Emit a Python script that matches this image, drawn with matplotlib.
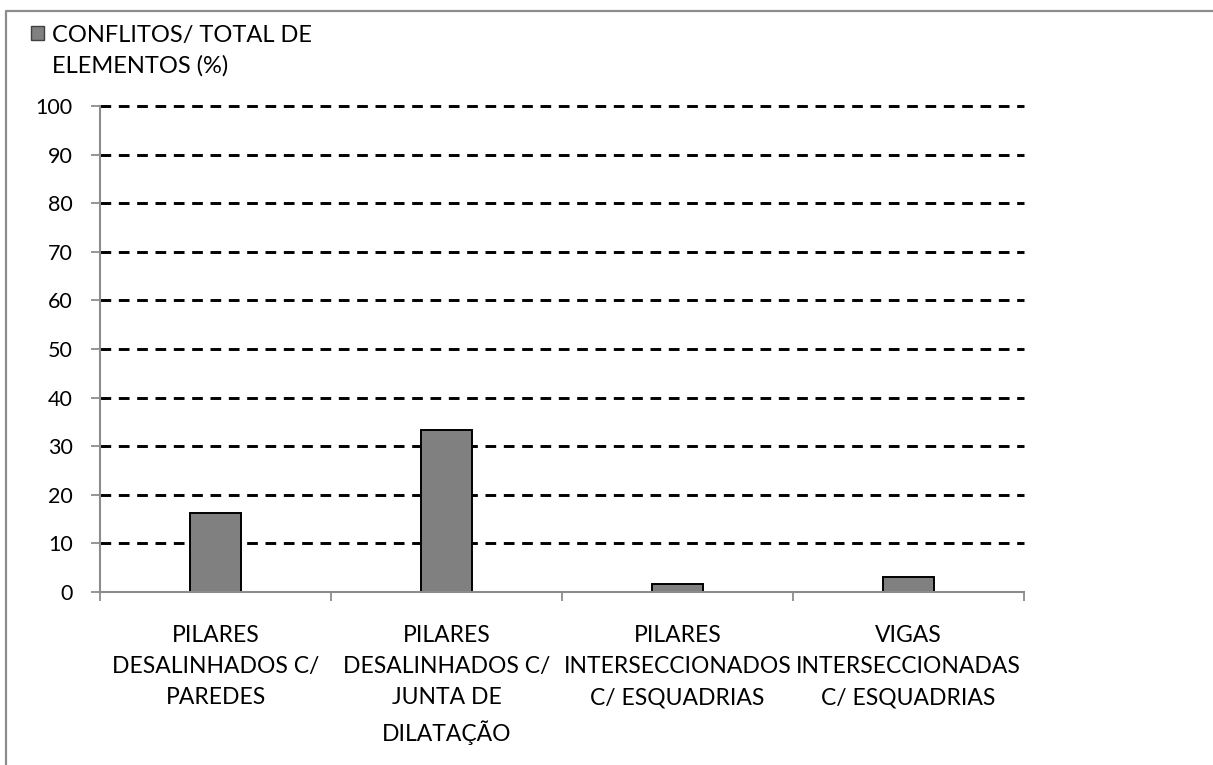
import matplotlib.pyplot as plt
import numpy as np
from matplotlib.lines import Line2D
from matplotlib.patches import Rectangle

plt.rcParams["font.family"] = ["Lato", "DejaVu Sans"]
plt.rcParams["lines.scale_dashes"] = False

categories = [
    "PILARES\nDESALINHADOS C/\nPAREDES",
    "PILARES\nDESALINHADOS C/\nJUNTA DE\nDILATAÇÃO",
    "PILARES\nINTERSECCIONADOS\nC/ ESQUADRIAS",
    "VIGAS\nINTERSECCIONADAS\nC/ ESQUADRIAS",
]
conflitos_pct = [16.2, 33.3, 1.6, 3.1]
series_label = "CONFLITOS/ TOTAL DE\nELEMENTOS (%)"
y_ticks = list(range(0, 101, 10))

W, H = 1213, 765
fig = plt.figure(figsize=(W / 100, H / 100), dpi=100)
ax = fig.add_axes([100 / W, 1 - 592 / H, (1024 - 100) / W, (592 - 106) / H])

axis_gray = "#8c8c8c"
bar_gray = "#808080"
x = np.arange(len(categories))

# dashed horizontal gridlines behind the bars
for yv in y_ticks[1:]:
    ax.axhline(yv, color="black", lw=2.1, linestyle=(0, (7.7, 5.5)),
               zorder=1, clip_on=False)

ax.bar(x, conflitos_pct, width=0.225, color=bar_gray, edgecolor="black",
       linewidth=1.4, zorder=3)

ax.set_xlim(-0.5, len(categories) - 0.5)
ax.set_ylim(0, 100)
ax.set_yticks(y_ticks)
ax.set_xticks(x)
ax.set_xticklabels(categories, fontsize=16.5, linespacing=1.6, va="top")
ax.set_xticks(np.arange(-0.5, len(categories)), minor=True)

for side in ("top", "right"):
    ax.spines[side].set_visible(False)
for side in ("left", "bottom"):
    ax.spines[side].set_color(axis_gray)
    ax.spines[side].set_linewidth(1.5)
    ax.spines[side].set_zorder(4)

ax.tick_params(axis="y", length=6.5, width=1.3, color=axis_gray, pad=13, labelsize=15.5)
ax.tick_params(axis="x", which="major", length=0, pad=23.5)
ax.tick_params(axis="x", which="minor", length=6.5, width=1.3, color=axis_gray)

# legend: swatch plus two-line label
fig.add_artist(Rectangle((30.5 / W, 1 - 39.5 / H), 13 / W, 13 / H,
                         transform=fig.transFigure, facecolor=bar_gray,
                         edgecolor="#404040", linewidth=1))
for i, line in enumerate(series_label.split("\n")):
    fig.text(52 / W, 1 - (42 + 31 * i) / H, line, fontsize=17,
             ha="left", va="baseline")

# outer chart frame (top and left edges visible)
fig.add_artist(Line2D([6 / W, 6 / W, 1.0], [0.0, 1 - 11 / H, 1 - 11 / H],
                      transform=fig.transFigure, color=axis_gray, lw=1.6))

fig.savefig("out.png", dpi=100)
